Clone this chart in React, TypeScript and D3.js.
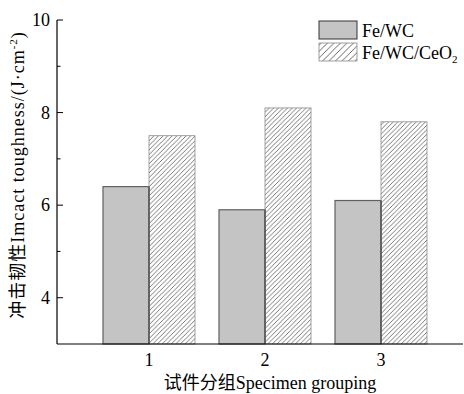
import React from "react";
import * as d3 from "d3";

const groups = ["1", "2", "3"];
const seriesNames = ["Fe/WC", "Fe/WC/CeO2"];
const feWC = [6.4, 5.9, 6.1];
const feWCCeO2 = [7.5, 8.1, 7.8];
const yTicks = [4, 6, 8, 10];
const yMinorTicks = [5, 7, 9];

const W = 464;
const H = 394;
const FONT = "'Liberation Serif', 'Times New Roman', 'Noto Sans CJK SC', serif";

export default function App() {
  const left = 57;
  const right = 463;
  const top = 20;
  const bottom = 344;

  const y = d3.scaleLinear().domain([3, 10]).range([bottom, top]);
  const x0 = d3.scalePoint<string>().domain(groups).range([149, 381]);
  const x1 = d3.scaleBand<string>().domain(seriesNames).range([-46, 46]);

  const values = [feWC, feWCCeO2];

  return (
    <div style={{ position: "absolute", left: 0, top: 0 }}>
      <svg width={W} height={H} style={{ display: "block", background: "#fff" }} fontFamily={FONT}>
        <defs>
          <pattern id="hatch" patternUnits="userSpaceOnUse" width="4.6" height="4.6">
            <path d="M-1,1 L1,-1 M0,4.6 L4.6,0 M3.6,5.6 L5.6,3.6" stroke="#6a6a6a" strokeWidth="0.9" />
          </pattern>
          <pattern id="hatchL" patternUnits="userSpaceOnUse" width="6.5" height="6.5">
            <path d="M-1,1 L1,-1 M0,6.5 L6.5,0 M5.5,7.5 L7.5,5.5" stroke="#555" strokeWidth="0.9" />
          </pattern>
        </defs>

        {/* bars */}
        {groups.map((g, gi) =>
          seriesNames.map((s, si) => {
            const v = values[si][gi];
            const bx = (x0(g) as number) + (x1(s) as number);
            const bw = x1.bandwidth();
            const by = y(v);
            return si === 0 ? (
              <rect key={g + s} x={bx} y={by} width={bw} height={bottom - by} fill="#c4c4c4" stroke="#606060" strokeWidth={1.2} />
            ) : (
              <rect key={g + s} x={bx} y={by} width={bw} height={bottom - by} fill="url(#hatch)" stroke="#8a8a8a" strokeWidth={0.8} />
            );
          })
        )}
        {groups.map((g, gi) => {
          const bx = (x0(g) as number) + (x1(seriesNames[0]) as number);
          const bw = x1.bandwidth();
          return <line key={"e" + g} x1={bx + bw} x2={bx + bw} y1={y(feWC[gi])} y2={bottom} stroke="#4a4a4a" strokeWidth={1.2} />;
        })}

        {/* y axis */}
        <line x1={left} x2={left} y1={top} y2={bottom} stroke="#000" strokeWidth={1.2} />
        {yTicks.map((t) => (
          <g key={t}>
            <line x1={left} x2={left + 6} y1={y(t)} y2={y(t)} stroke="#000" strokeWidth={1} />
            <text x={left - 7} y={y(t)} dy="0.35em" textAnchor="end" fontSize={18} fill="#000">
              {t}
            </text>
          </g>
        ))}
        {yMinorTicks.map((t) => (
          <line key={"m" + t} x1={left} x2={left + 3.5} y1={y(t)} y2={y(t)} stroke="#000" strokeWidth={1} />
        ))}

        {/* x axis */}
        <line x1={left} x2={right} y1={bottom} y2={bottom} stroke="#000" strokeWidth={1.2} />
        {groups.map((g) => (
          <text key={"xt" + g} x={x0(g) as number} y={366} textAnchor="middle" fontSize={18} fill="#000">
            {g}
          </text>
        ))}

        {/* axis titles */}
        <text x={270} y={389} textAnchor="middle" fontSize={18} fill="#000">
          试件分组Specimen grouping
        </text>
        <text transform={`translate(24,175) rotate(-90)`} textAnchor="middle" fontSize={18} fill="#000" letterSpacing={1}>
          冲击韧性Imcact toughness/(J·cm
          <tspan fontSize={11} dy="-7">-2</tspan>
          <tspan dy="7">)</tspan>
        </text>

        {/* legend */}
        <rect x={319} y={21} width={38} height={18} fill="#c4c4c4" stroke="#333" strokeWidth={1} />
        <text x={362} y={37} fontSize={18} fill="#000">Fe/WC</text>
        <rect x={319} y={43} width={38} height={18} fill="url(#hatchL)" stroke="#888" strokeWidth={0.8} />
        <text x={362} y={59} fontSize={18} fill="#000">
          Fe/WC/CeO<tspan fontSize={11} dy="4">2</tspan>
        </text>
      </svg>
    </div>
  );
}
